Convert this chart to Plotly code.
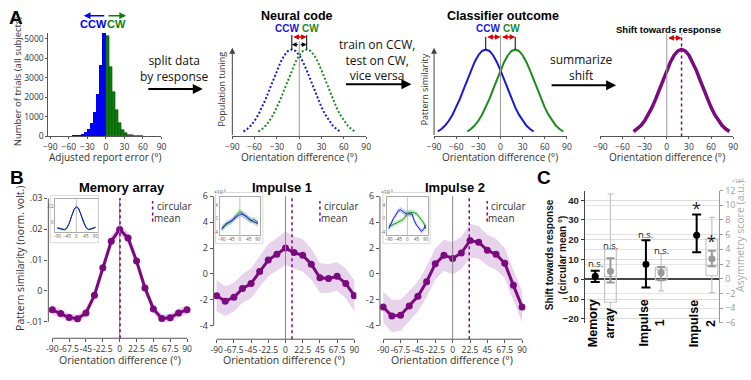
import plotly.graph_objects as go

W, H = 751, 380
FONT = "Open Sans"
BOLD = "Liberation Sans"


def px(x):
    return x / W


def py(y):
    return 1 - y / H


def dx(a, b):
    return [a / W, b / W]


def dy(top, bottom):
    return [1 - bottom / H, 1 - top / H]


# ---------------- DATA ----------------
# Panel A: histogram of adjusted report error (5 deg bins)
HIST_CCW_CENTERS = [-57.5, -52.5, -47.5, -42.5, -37.5, -32.5, -27.5, -22.5, -17.5, -12.5, -7.5, -2.5]
HIST_CCW_COUNTS = [15, 25, 40, 60, 110, 200, 360, 690, 1270, 2180, 3660, 5280]
HIST_CW_CENTERS = [2.5, 7.5, 12.5, 17.5, 22.5, 27.5, 32.5, 37.5, 42.5, 47.5, 52.5, 57.5]
HIST_CW_COUNTS = [5150, 3580, 2260, 1350, 690, 330, 165, 90, 50, 30, 20, 12]
HIST_X_TICKS = [-90, -60, -30, 0, 30, 60, 90]
HIST_Y_TICKS = [0, 1000, 2000, 3000, 4000, 5000]

# Panel A: schematic tuning curve (offset from centre, normalised height)
TUNING_OFFSETS = [-65, -60, -55, -50, -45, -40, -35, -30, -25, -20, -15, -10, -5, 0,
                  5, 10, 15, 20, 25, 30, 35, 40, 45, 50, 55, 60, 65]
TUNING_SHAPE = [0.056, 0.085, 0.125, 0.18, 0.25, 0.334, 0.432, 0.54, 0.651, 0.76, 0.857, 0.934, 0.983, 1.0,
                0.983, 0.934, 0.857, 0.76, 0.651, 0.54, 0.432, 0.334, 0.25, 0.18, 0.125, 0.085, 0.056]
NEURAL_CCW_CENTER = -10
NEURAL_CW_CENTER = 10
CLASSIFIER_CCW_CENTER = -20
CLASSIFIER_CW_CENTER = 20
SHIFT_CENTER = 20
ORI_TICKS = [-90, -60, -30, 0, 30, 60, 90]

# Panel B: pattern similarity by orientation difference
B_X = [-90, -78.75, -67.5, -56.25, -45, -33.75, -22.5, -11.25, 0, 11.25, 22.5, 33.75, 45, 56.25, 67.5, 78.75, 90]
B_TICKS = [-90, -67.5, -45, -22.5, 0, 22.5, 45, 67.5, 90]
B_TICKTEXT = ["-90", "-67.5", "-45", "-22.5", "0", "22.5", "45", "67.5", "90"]

MEM_Y = [-0.0061, -0.0073, -0.0086, -0.0090, -0.0071, -0.0014, 0.0075, 0.0161, 0.0199, 0.0171, 0.0097,
         0.0010, -0.0058, -0.0089, -0.0087, -0.0071, -0.0061]
MEM_SEM = [0.0015, 0.0014, 0.0013, 0.0013, 0.0014, 0.0016, 0.0017, 0.0018, 0.0018, 0.0018, 0.0017,
           0.0016, 0.0014, 0.0013, 0.0013, 0.0014, 0.0015]
MEM_CMEAN = 0.5
MEM_YTICKS = [-0.01, 0, 0.01, 0.02, 0.03]
MEM_YTICKTEXT = ["-.01", "0", ".01", ".02", ".03"]

IMP1_Y = [-1.68, -2.1, -1.8, -1.13, -0.73, 0.2, 1.07, 1.52, 2.0, 1.65, 1.45, 0.75, -0.3, -0.35, -0.18, -0.73, -1.68]
IMP1_SEM = [1.2, 1.15, 1.1, 1.1, 1.15, 1.2, 1.25, 1.25, 1.3, 1.25, 1.25, 1.2, 1.15, 1.1, 1.1, 1.15, 1.2]
IMP1_CMEAN = 8.5

IMP2_Y = [-2.55, -3.25, -3.18, -2.48, -1.73, -0.6, 0.78, 1.45, 1.2, 1.62, 2.58, 2.45, 1.83, 1.52, 0.83, -0.88, -2.55]
IMP2_SEM = [1.2, 1.25, 1.2, 1.15, 1.15, 1.2, 1.2, 1.2, 1.25, 1.25, 1.3, 1.25, 1.2, 1.2, 1.15, 1.15, 1.2]
IMP2_CMEAN = 21.5
IMP_YTICKS = [-4, -2, 0, 2, 4, 6]

# Panel B insets: CCW (blue) and CW (green) separately
MEM_IN_CCW = [-0.007, -0.008, -0.009, -0.0092, -0.007, -0.001, 0.008, 0.016, 0.020, 0.017, 0.009, 0.000,
              -0.006, -0.009, -0.0085, -0.007, -0.006]
MEM_IN_CW = [-0.0068, -0.0078, -0.0088, -0.009, -0.0072, -0.0012, 0.0078, 0.0158, 0.0198, 0.0168, 0.0092,
             0.0004, -0.0058, -0.0088, -0.0084, -0.0072, -0.0062]
MEM_IN_SEM = [0.0012, 0.0012, 0.0011, 0.0011, 0.0012, 0.0013, 0.0014, 0.0015, 0.0015, 0.0015, 0.0014,
              0.0013, 0.0012, 0.0011, 0.0011, 0.0012, 0.0012]
IMP1_IN_CCW = [-3.2, -2.2, -1.5, -1.2, -0.9, -0.4, 0.2, 0.8, 1.2, 1.3, 1.0, 0.6, 0.0, -0.6, -1.0, -1.2, -1.6]
IMP1_IN_CW = [-2.8, -2.4, -1.8, -1.3, -1.0, -0.2, 0.6, 1.4, 2.1, 1.6, 1.0, 0.4, -0.4, -0.8, -0.2, -0.6, -1.2]
IMP2_IN_CCW = [-2.9, -1.4, 0.0, 1.0, 2.2, 2.6, 2.0, 1.6, 1.4, 1.4, 1.3, -0.6, -2.0, -2.8, -3.8, -3.2, -2.0]
IMP2_IN_CW = [-2.4, -2.1, -1.8, -1.6, -1.1, -0.7, -0.4, 0.4, 1.4, 1.8, 1.8, 1.7, 1.4, 0.5, -0.2, -1.2, -3.0]
IMP_IN_SEM = [0.9, 0.85, 0.8, 0.8, 0.8, 0.85, 0.85, 0.9, 0.9, 0.9, 0.85, 0.85, 0.8, 0.8, 0.8, 0.85, 0.9]
INSET_TICKS = [-90, -45, 0, 45, 90]

# Panel C
C_CATEGORIES = ["Memory<br>array", "Impulse<br>1", "Impulse<br>2"]
SHIFT_MEAN = [1.6, 7.6, 22.3]
SHIFT_CI_LOW = [-1.3, -4.1, 13.7]
SHIFT_CI_HIGH = [4.3, 19.8, 32.8]
SHIFT_SIG = ["n.s.", "n.s.", "*"]
ASYM_MEAN = [1.0, 0.8, 2.7]
ASYM_ERR_LOW = [-0.5, -0.2, 1.7]
ASYM_ERR_HIGH = [2.8, 1.6, 3.8]
ASYM_Q1 = [-3.2, -0.2, 0.4]
ASYM_MEDIAN = [0.3, 1.2, 1.8]
ASYM_Q3 = [4.0, 1.5, 5.4]
ASYM_MIN = [-4.6, -1.65, -1.9]
ASYM_MAX = [11.5, 3.4, 8.35]
ASYM_SIG = ["n.s.", "n.s.", "*"]
SHIFT_TICKS = [-20, -10, 0, 10, 20, 30, 40]
ASYM_TICKS = [-6, -4, -2, 0, 2, 4, 6, 8, 10, 12]

# ---------------- STYLE ----------------
BLUE_HIST = "#0000f5"
GREEN_HIST = "#0a820a"
BLUE = "#1a1ad6"
GREEN = "#1e8a1e"
PURPLE = "#7a0a7e"
BAND = "rgba(180,110,195,0.30)"
BLUE_BAND = "rgba(90,110,255,0.28)"
GREEN_BAND = "rgba(90,200,90,0.30)"
TICK = dict(family=FONT, size=8.5, color="#333")
BTICK = dict(family=FONT, size=8.5, color="#333")
AXC = "#555"

fig = go.Figure()

# ---- A: histogram
fig.add_trace(go.Bar(x=HIST_CCW_CENTERS, y=HIST_CCW_COUNTS, width=5,
                     marker=dict(color=BLUE_HIST, line=dict(width=0)), xaxis="x", yaxis="y"))
fig.add_trace(go.Bar(x=HIST_CW_CENTERS, y=HIST_CW_COUNTS, width=5,
                     marker=dict(color=GREEN_HIST, line=dict(color="#0a4a0a", width=0.6)), xaxis="x", yaxis="y"))


def shifted(center):
    return [center + o for o in TUNING_OFFSETS]


# ---- A: schematic curves
fig.add_trace(go.Scatter(x=shifted(NEURAL_CCW_CENTER), y=TUNING_SHAPE, mode="lines",
                         line=dict(color=BLUE, width=2, dash="2px,2px"), xaxis="x2", yaxis="y2"))
fig.add_trace(go.Scatter(x=shifted(NEURAL_CW_CENTER), y=TUNING_SHAPE, mode="lines",
                         line=dict(color=GREEN, width=2, dash="2px,2px"), xaxis="x2", yaxis="y2"))
fig.add_trace(go.Scatter(x=shifted(CLASSIFIER_CCW_CENTER), y=TUNING_SHAPE, mode="lines",
                         line=dict(color=BLUE, width=2), xaxis="x3", yaxis="y3"))
fig.add_trace(go.Scatter(x=shifted(CLASSIFIER_CW_CENTER), y=TUNING_SHAPE, mode="lines",
                         line=dict(color=GREEN, width=2), xaxis="x3", yaxis="y3"))
fig.add_trace(go.Scatter(x=shifted(SHIFT_CENTER), y=TUNING_SHAPE, mode="lines",
                         line=dict(color=PURPLE, width=3.5), xaxis="x4", yaxis="y4"))


def band(xs, ys, errs, color, i):
    up = [y + e for y, e in zip(ys, errs)]
    lo = [y - e for y, e in zip(ys, errs)]
    fig.add_trace(go.Scatter(x=xs + xs[::-1], y=up + lo[::-1], fill="toself", fillcolor=color,
                             line=dict(width=0), mode="lines", hoverinfo="skip",
                             xaxis=f"x{i}", yaxis=f"y{i}"))


# ---- B main panels
for i, ys, sem in [(5, MEM_Y, MEM_SEM), (6, IMP1_Y, IMP1_SEM), (7, IMP2_Y, IMP2_SEM)]:
    band(B_X, ys, sem, BAND, i)
    fig.add_trace(go.Scatter(x=B_X, y=ys, mode="lines+markers", line=dict(color=PURPLE, width=3),
                             marker=dict(size=7, color=PURPLE), xaxis=f"x{i}", yaxis=f"y{i}"))

# ---- B insets
for i, ccw, cw, sem in [(8, MEM_IN_CCW, MEM_IN_CW, MEM_IN_SEM), (9, IMP1_IN_CCW, IMP1_IN_CW, IMP_IN_SEM),
                        (10, IMP2_IN_CCW, IMP2_IN_CW, IMP_IN_SEM)]:
    band(B_X, cw, sem, GREEN_BAND, i)
    band(B_X, ccw, sem, BLUE_BAND, i)
    fig.add_trace(go.Scatter(x=B_X, y=cw, mode="lines", line=dict(color=GREEN, width=1),
                             xaxis=f"x{i}", yaxis=f"y{i}"))
    fig.add_trace(go.Scatter(x=B_X, y=ccw, mode="lines", line=dict(color=BLUE, width=1),
                             xaxis=f"x{i}", yaxis=f"y{i}"))

# ---- C
cat_idx = [1, 2, 3]
x_black = [c - 0.15 for c in cat_idx]
x_gray = [c + 0.15 for c in cat_idx]
fig.add_trace(go.Box(x=x_gray, q1=ASYM_Q1, median=ASYM_MEDIAN, q3=ASYM_Q3, lowerfence=ASYM_MIN,
                     upperfence=ASYM_MAX, width=0.23, whiskerwidth=0.5, boxpoints=False,
                     line=dict(color="#c4c4c4", width=1.2), fillcolor="rgba(255,255,255,0)",
                     xaxis="x11", yaxis="y12"))
fig.add_trace(go.Scatter(x=x_gray, y=ASYM_MEAN, mode="markers",
                         marker=dict(size=7, color="#9a9a9a"),
                         error_y=dict(type="data", symmetric=False,
                                      array=[h - m for h, m in zip(ASYM_ERR_HIGH, ASYM_MEAN)],
                                      arrayminus=[m - l for m, l in zip(ASYM_MEAN, ASYM_ERR_LOW)],
                                      color="#9a9a9a", thickness=2, width=4),
                         xaxis="x11", yaxis="y12"))
fig.add_trace(go.Scatter(x=x_black, y=SHIFT_MEAN, mode="markers",
                         marker=dict(size=7, color="#000"),
                         error_y=dict(type="data", symmetric=False,
                                      array=[h - m for h, m in zip(SHIFT_CI_HIGH, SHIFT_MEAN)],
                                      arrayminus=[m - l for m, l in zip(SHIFT_MEAN, SHIFT_CI_LOW)],
                                      color="#000", thickness=2, width=4.5),
                         xaxis="x11", yaxis="y11"))

# ---------------- AXES ----------------
hidden = dict(showgrid=False, zeroline=False, showline=False, ticks="", showticklabels=False)
lay = {}
lay["xaxis"] = dict(domain=dx(42, 157), range=[-93.2, 90], anchor="y", tickvals=HIST_X_TICKS,
                    ticks="outside", ticklen=2, tickcolor=AXC, showline=True, linecolor=AXC,
                    tickfont=TICK, tickangle=0, showgrid=False, zeroline=False)
lay["yaxis"] = dict(domain=dy(27, 134), range=[0, 5300], anchor="x", tickvals=HIST_Y_TICKS,
                    ticks="outside", ticklen=2, tickcolor=AXC, showline=True, linecolor=AXC,
                    tickfont=TICK, tickangle=0, showgrid=False, zeroline=False)
for i, (a, b) in zip([2, 3, 4], [(229, 365), (434, 569), (603, 738)]):
    lay[f"xaxis{i}"] = dict(domain=dx(a, b), range=[-90, 90], anchor=f"y{i}", tickvals=ORI_TICKS,
                            ticks="outside", ticklen=2, tickcolor=AXC, showline=True, linecolor=AXC,
                            tickfont=TICK, tickangle=0, showgrid=False, zeroline=False)
    lay[f"yaxis{i}"] = dict(domain=dy(24, 134), range=[0, 1.222], anchor=f"x{i}", **hidden)

bmain = [(5, (42, 187), [-95.3, 95.3], (198, 343), [-0.0153, 0.03], MEM_YTICKS, MEM_YTICKTEXT),
         (6, (210, 355), [-93.9, 92.6], (196, 344), [-5.04, 6], IMP_YTICKS, [str(v) for v in IMP_YTICKS]),
         (7, (379, 527), [-94.2, 94.5], (196, 344), [-5.04, 6], IMP_YTICKS, [str(v) for v in IMP_YTICKS])]
for i, xd, xr, yd, yr, yt, ytt in bmain:
    lay[f"xaxis{i}"] = dict(domain=dx(*xd), range=xr, anchor=f"y{i}", tickvals=B_TICKS, ticktext=B_TICKTEXT,
                            ticks="outside", ticklen=3, tickcolor=AXC, tickfont=BTICK, tickangle=0,
                            showgrid=False, zeroline=False, showline=False)
    lay[f"yaxis{i}"] = dict(domain=dy(*yd), range=yr, anchor=f"x{i}", tickvals=yt, ticktext=ytt,
                            ticks="outside", ticklen=3, tickcolor=AXC, tickfont=dict(family=FONT, size=9, color="#333"),
                            tickangle=0, showgrid=False, zeroline=False, showline=False)

INSET_FONT = dict(family=FONT, size=4.5, color="#555")
insets = [(8, (49, 92), [-100, 100], (199, 233), [-0.012, 0.029], [0, 0.02], ["0", ".02"]),
          (9, (216, 257), [-101, 100], (197, 236), [-4.86, 6.29], [-4, 0, 4], ["-4", "0", "4"]),
          (10, (386, 428), [-99.6, 101], (197, 236), [-4.86, 6.29], [-4, 0, 4], ["-4", "0", "4"])]
for i, xd, xr, yd, yr, yt, ytt in insets:
    lay[f"xaxis{i}"] = dict(domain=dx(*xd), range=xr, anchor=f"y{i}", tickvals=INSET_TICKS,
                            ticks="", tickfont=INSET_FONT, tickangle=0, showline=True, mirror=True,
                            linecolor="#aaa", linewidth=0.6, showgrid=False, zeroline=False)
    lay[f"yaxis{i}"] = dict(domain=dy(*yd), range=yr, anchor=f"x{i}", tickvals=yt, ticktext=ytt,
                            ticks="", tickfont=INSET_FONT, tickangle=0, showline=True, mirror=True,
                            linecolor="#aaa", linewidth=0.6, showgrid=False, zeroline=False)

lay["xaxis11"] = dict(domain=dx(587, 724), range=[0.641, 3.299], anchor="y11", **hidden)
lay["yaxis11"] = dict(domain=dy(190, 327), range=[-21.95, 44.9], anchor="x11", tickvals=SHIFT_TICKS,
                      ticks="outside", ticklen=3, tickcolor="#333", showline=True, linecolor="#444",
                      tickfont=dict(family=BOLD, size=9.5, color="#222", weight="bold"), tickangle=0,
                      showgrid=True, gridcolor="#dcdcdc", zeroline=True, zerolinecolor="#444",
                      zerolinewidth=1.5)
lay["yaxis12"] = dict(range=[-6, 12], anchor="x11", overlaying="y11", side="right", tickvals=ASYM_TICKS,
                      ticks="outside", ticklen=3, tickcolor="#999", showline=True, linecolor="#999",
                      tickfont=dict(family=FONT, size=9, color="#999"), tickangle=0,
                      showgrid=True, gridcolor="#e4e4e4", zeroline=False)

# ---------------- SHAPES ----------------
shapes = []


def vline(i, x, y0, y1, color, width=1, dash="solid", dom=False):
    shapes.append(dict(type="line", xref=f"x{i}", yref=(f"y{i} domain" if dom else f"y{i}"),
                       x0=x, x1=x, y0=y0, y1=y1, line=dict(color=color, width=width, dash=dash)))


# A schematic reference lines
vline(2, 0, 0, 1.09, "#999")
vline(2, NEURAL_CCW_CENTER, 1.0, 1.167, "#000")
vline(2, NEURAL_CW_CENTER, 1.0, 1.167, "#000")
vline(3, 0, 0, 1.167, "#999")
vline(3, CLASSIFIER_CCW_CENTER, 1.0, 1.144, "#000")
vline(3, CLASSIFIER_CW_CENTER, 1.0, 1.144, "#000")
vline(4, 0, 0, 1.18, "#999")
vline(4, SHIFT_CENTER, 0, 1.18, PURPLE, 1.5, "dot")

# B reference lines and spines
for i, cm, ylo, yhi in [(5, MEM_CMEAN, -0.01, 0.03), (6, IMP1_CMEAN, -4, 6), (7, IMP2_CMEAN, -4, 6)]:
    vline(i, 0, 0, 1, "#888", 1, dom=True)
    vline(i, cm, 0, 1, PURPLE, 1.5, "dot", dom=True)
    shapes.append(dict(type="line", xref=f"x{i} domain", yref=f"y{i}", x0=0, x1=0, y0=ylo, y1=yhi,
                       line=dict(color=AXC, width=1)))
    shapes.append(dict(type="line", xref=f"x{i}", yref=f"y{i} domain", x0=-90, x1=90, y0=0, y1=0,
                       line=dict(color=AXC, width=1)))
for i in [8, 9, 10]:
    vline(i, 0, 0, 1, "#999", 0.6, dom=True)

# inset outer frames
for (x0, y0, x1, y1) in [(44, 195, 93, 244), (212, 192, 260, 245), (382, 192, 430, 245)]:
    shapes.append(dict(type="rect", xref="paper", yref="paper", x0=px(x0), x1=px(x1), y0=py(y1), y1=py(y0),
                       line=dict(color="#cfcfcf", width=0.8)))

# circular mean legend markers
for lx in [148, 318, 488]:
    shapes.append(dict(type="line", xref="paper", yref="paper", x0=px(lx), x1=px(lx), y0=py(222), y1=py(201),
                       line=dict(color=PURPLE, width=1.5, dash="dot")))

# ---------------- ANNOTATIONS ----------------
anns = []


def T(x, y, text, size=10, color="#333", family=FONT, angle=0, xanchor="center", yanchor="middle",
      bold=False, align="center"):
    anns.append(dict(x=px(x), y=py(y), xref="paper", yref="paper",
                     text=f"<b>{text}</b>" if bold else text, showarrow=False,
                     font=dict(size=size, color=color, family=family), textangle=angle,
                     xanchor=xanchor, yanchor=yanchor, align=align))


def ARROW(x0, x1, y, color="#000", width=2, size=1.0):
    anns.append(dict(x=px(x1), y=py(y), xref="paper", yref="paper", ax=x0 - x1, ay=0,
                     text="", showarrow=True, arrowhead=2, arrowsize=size, arrowwidth=width,
                     arrowcolor=color))


def DARROW(i, x0, x1, y, color, both=True, width=1.4):
    anns.append(dict(xref=f"x{i}", yref=f"y{i}", axref=f"x{i}", ayref=f"y{i}", x=x1, y=y, ax=x0, ay=y,
                     text="", showarrow=True, arrowhead=2, arrowsize=0.8, arrowwidth=width,
                     arrowcolor=color, arrowside="end+start" if both else "end"))


def YARROW(i):
    anns.append(dict(xref=f"x{i}", yref=f"y{i}", axref=f"x{i}", ayref=f"y{i}", x=-90, y=1.02, ax=-90, ay=0,
                     text="", showarrow=True, arrowhead=2, arrowsize=1.2, arrowwidth=1, arrowcolor="#444"))


# panel letters
T(9, 11, "A", 19, "#000", BOLD, bold=True)
T(10, 177, "B", 19, "#000", BOLD, bold=True)
T(546, 177, "C", 19, "#000", BOLD, bold=True)

# A histogram labels
T(88, 18, "CCW", 11, BLUE_HIST, BOLD, bold=True)
T(111, 18, "CW", 11, GREEN_HIST, BOLD, bold=True)
ARROW(100, 78, 9, BLUE_HIST, 1.5, 0.9)
ARROW(102, 121, 9, GREEN_HIST, 1.5, 0.9)
T(11, 77, "Number of trials (all subjects)", 9.5, angle=-90)
T(100, 155, "Adjusted report error (°)", 10)

# flow arrows
T(170, 64, "split data<br>by response", 12, "#111")
ARROW(143, 199, 85)
T(376, 55, "train on CCW,<br>test on CW,<br>vice versa", 12, "#111")
ARROW(344, 411, 80)
T(584, 63, "summarize<br>shift", 12, "#111")
ARROW(553, 619, 81)

# A titles
T(295, 9, "Neural code", 12.5, "#000", BOLD, bold=True)
T(285, 22, "CCW", 10, BLUE, BOLD, bold=True)
T(308, 22, "CW", 10, GREEN, BOLD, bold=True)
T(504, 9, "Classifier outcome", 12.5, "#000", BOLD, bold=True)
T(489, 22, "CCW", 10, BLUE, BOLD, bold=True)
T(513, 22, "CW", 10, GREEN, BOLD, bold=True)
T(672, 23, "Shift towards response", 9.5, "#000", BOLD, bold=True)
T(218, 85, "Population tuning", 9, angle=-90)
T(424, 85, "Pattern similarity", 9, angle=-90)
for cx in [297, 501.5, 670.5]:
    T(cx, 155, "Orientation difference (°)", 10)
YARROW(2)
YARROW(3)

# A schematic arrows
DARROW(2, NEURAL_CCW_CENTER, NEURAL_CW_CENTER, 1.144, "#e00000")
DARROW(2, 0, NEURAL_CCW_CENTER, 1.056, "#000", both=False, width=1.2)
DARROW(2, 0, NEURAL_CW_CENTER, 1.056, "#000", both=False, width=1.2)
DARROW(3, CLASSIFIER_CCW_CENTER, 0, 1.144, "#e00000")
DARROW(3, 0, CLASSIFIER_CW_CENTER, 1.144, "#e00000")
DARROW(4, 0, SHIFT_CENTER, 1.133, "#e00000")

# B titles/labels
T(117, 187, "Memory array", 13, "#000", BOLD, bold=True)
T(279, 187, "Impulse 1", 13, "#000", BOLD, bold=True)
T(455, 187, "Impulse 2", 13, "#000", BOLD, bold=True)
T(13, 260, "Pattern similarity (norm. volt.)", 10.5, angle=-90)
for cx in [115, 282, 452]:
    T(cx, 365, "Orientation difference (°)", 10.5)
for lx in [148, 318, 488]:
    T(lx + 2, 206, "circular", 10, xanchor="left")
    T(lx + 15, 218, "mean", 10)
T(216, 191, "×10<sup>-3</sup>", 5, "#555")
T(386, 191, "×10<sup>-3</sup>", 5, "#555")

# C labels
T(558, 257, "Shift towards response<br>(circular mean °)", 10, "#111", BOLD, angle=-90, bold=True)
T(745, 237, "Asymmetry score (a.u.)", 10.5, "#aaa", angle=-90)
T(743, 180, "×10<sup>-3</sup>", 5, "#999")
for c, lab in zip(cat_idx, C_CATEGORIES):
    anns.append(dict(x=c - 0.03, y=py(354), xref="x11", yref="paper", text=f"<b>{lab}</b>", showarrow=False,
                     textangle=-90, font=dict(family=BOLD, size=12.5, color="#000")))
black_lab_y = [7.8, 22.9, 36.1]
gray_lab_y = [4.5, 3.85, 5.17]
for xb, s, yy in zip(x_black, SHIFT_SIG, black_lab_y):
    anns.append(dict(x=xb, y=yy, xref="x11", yref="y11", text=s, showarrow=False,
                     font=dict(family=FONT, size=(16 if s == "*" else 9.5), color="#222")))
for xg, s, yy in zip(x_gray, ASYM_SIG, gray_lab_y):
    anns.append(dict(x=xg, y=yy, xref="x11", yref="y12", text=s, showarrow=False,
                     font=dict(family=FONT, size=(16 if s == "*" else 9.5), color="#222")))

fig.update_layout(width=W, height=H, margin=dict(l=0, r=0, t=0, b=0), autosize=False,
                  plot_bgcolor="rgba(0,0,0,0)", paper_bgcolor="white", showlegend=False,
                  barmode="overlay", bargap=0, font=dict(family=FONT),
                  shapes=shapes, annotations=anns, **lay)

fig.write_html("out.html", config={"displayModeBar": False},
               post_script="document.body.style.margin='0px';document.body.style.padding='0px';")
